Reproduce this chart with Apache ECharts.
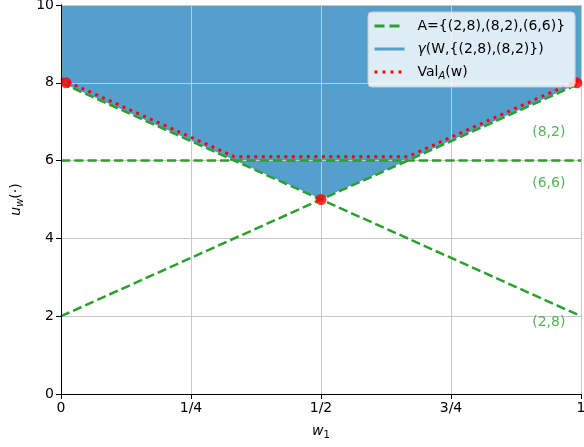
<!DOCTYPE html>
<html><head><meta charset="utf-8">
<script src="https://cdn.jsdelivr.net/npm/echarts@6/dist/echarts.min.js"></script>
<style>html,body{margin:0;padding:0;background:#fff}#c{width:584px;height:447px}</style>
</head><body><div id="c"></div>
<script>
const xTicks = [0, 0.25, 0.5, 0.75, 1];
const xTickLabels = ['0', '1/4', '1/2', '3/4', '1'];
const yTicks = [0, 2, 4, 6, 8, 10];
const lineA28 = [[0, 2], [1, 8]];
const lineA82 = [[0, 8], [1, 2]];
const lineA66 = [[0, 6], [1, 6]];
const gammaLower = [[0, 8], [0.5, 5], [1, 8]];
const valA = [[0, 8.1], [1/3, 6.1], [2/3, 6.1], [1, 8.1]];
const redPoints = [[0.01, 8], [0.5, 5], [0.992, 8]];
const pointLabels = [[0.938, 6.72, '(8,2)'], [0.938, 5.42, '(6,6)'], [0.938, 1.83, '(2,8)']];

const nameA = 'A';
const nameG = 'G';
const nameV = 'V';
const green = '#2ca02c', blue = '#559fcd', red = '#ff0000';
const FONT = 'DejaVu Sans';
const chart = echarts.init(document.getElementById('c'));
const lab = {};
xTicks.forEach((t, i) => lab[t] = xTickLabels[i]);
const greenStyle = {color: green, width: 2.5, type: [9.25, 4]};
const redStyle = {color: red, width: 3, type: [3, 4.5]};
const mkGreen = d => ({type: 'line', name: nameA, data: d, symbol: 'none', z: 4,
  lineStyle: greenStyle, itemStyle: {color: green}, silent: true});
const legendText = {
  A: 'A={(2,8),(8,2),(6,6)}',
  G: '{i|γ}(W,{(2,8),(8,2)})',
  V: 'Val{sub|A}(w)'
};
chart.setOption({
  animation: false,
  textStyle: {fontFamily: FONT},
  grid: {left: 61, right: 3, top: 5, bottom: 53, outerBoundsMode: 'none', containLabel: false},
  legend: {
    orient: 'vertical', left: 368, top: 12, itemWidth: 30, itemHeight: 12, itemGap: 9,
    padding: [7, 10, 6, 5], backgroundColor: 'rgba(255,255,255,0.8)', borderColor: '#cccccc',
    borderWidth: 1, borderRadius: 4, z: 20,
    itemStyle: {opacity: 0},
    data: [
      {name: nameA, lineStyle: {color: green, width: 3, type: [10, 5]}},
      {name: nameG, lineStyle: {color: blue, width: 3}},
      {name: nameV, lineStyle: {color: red, width: 3, type: [3, 5]}}
    ],
    formatter: n => legendText[n],
    textStyle: {fontFamily: FONT, fontSize: 14, color: '#000', padding: [0, 0, 0, 8],
      rich: {i: {fontFamily: FONT, fontSize: 14, fontStyle: 'italic'},
        sub: {fontFamily: FONT, fontSize: 10, fontStyle: 'italic', verticalAlign: 'bottom', padding: [8, 0, 0, 0]}}}
  },
  xAxis: [{
    type: 'value', min: 0, max: 1, interval: 0.25, z: 3,
    name: '{i|w}{sub|1}', nameLocation: 'middle', nameGap: 28,
    nameTextStyle: {rich: {i: {fontFamily: FONT, fontSize: 14, fontStyle: 'italic'},
      sub: {fontFamily: FONT, fontSize: 10, verticalAlign: 'bottom', padding: [8, 0, 0, 0]}}},
    axisLine: {show: true, onZero: false, lineStyle: {color: '#000', width: 1}},
    axisTick: {show: true, length: 5, lineStyle: {color: '#000'}},
    axisLabel: {color: '#000', fontSize: 14, fontFamily: FONT, margin: 7, formatter: v => lab[v] !== undefined ? lab[v] : ''},
    splitLine: {show: true, lineStyle: {color: '#c8c8c8', width: 1}}
  }, {
    type: 'value', min: 0, max: 1, position: 'top', z: 10,
    axisLine: {show: true, lineStyle: {color: '#000', width: 1}},
    axisTick: {show: false}, axisLabel: {show: false}, splitLine: {show: false}
  }],
  yAxis: [{
    type: 'value', min: 0, max: 10, interval: 2, z: 3,
    name: '{i|u}{sub|w}{t|(·)}', nameLocation: 'middle', nameGap: 36, nameRotate: 90,
    nameTextStyle: {rich: {i: {fontFamily: FONT, fontSize: 14, fontStyle: 'italic'},
      t: {fontFamily: FONT, fontSize: 14},
      sub: {fontFamily: FONT, fontSize: 10, fontStyle: 'italic', verticalAlign: 'bottom', padding: [8, 0, 0, 0]}}},
    axisLine: {show: true, onZero: false, lineStyle: {color: '#000', width: 1}},
    axisTick: {show: true, length: 5, lineStyle: {color: '#000'}},
    axisLabel: {color: '#000', fontSize: 14, fontFamily: FONT, margin: 7},
    splitLine: {show: true, lineStyle: {color: '#c8c8c8', width: 1}}
  }, {
    type: 'value', min: 0, max: 10, position: 'right', z: 10,
    axisLine: {show: true, lineStyle: {color: '#000', width: 1}},
    axisTick: {show: false}, axisLabel: {show: false}, splitLine: {show: false}
  }],
  series: [
    {type: 'line', name: nameG, data: gammaLower, symbol: 'none', z: 1, silent: true,
      lineStyle: {color: '#ffffff', width: 1}, itemStyle: {color: blue},
      areaStyle: {origin: 'end', color: blue, opacity: 1}},
    mkGreen(lineA28), mkGreen(lineA82), mkGreen(lineA66),
    {type: 'line', name: nameV, data: valA, symbol: 'none', z: 5, silent: true,
      lineStyle: redStyle, itemStyle: {color: red}},
    {type: 'scatter', name: 'pts', data: redPoints, symbolSize: 11, z: 6, silent: true,
      itemStyle: {color: red}},
    {type: 'scatter', name: 'labels', data: pointLabels.map(p => ({value: [p[0], p[1]], name: p[2]})),
      symbolSize: 0, silent: true, z: 6,
      label: {show: true, position: 'inside', formatter: p => p.name, color: green, fontSize: 14, fontFamily: FONT}}
  ]
});
</script></body></html>
